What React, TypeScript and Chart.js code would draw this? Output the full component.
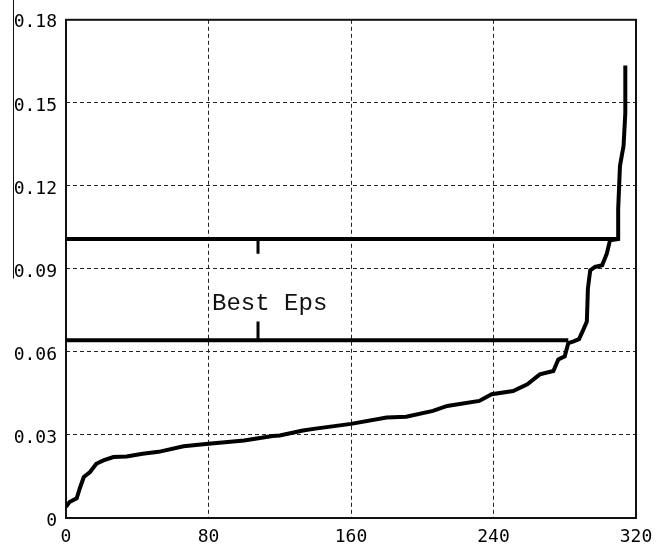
import React, { useEffect, useRef } from 'react';
import { Chart, registerables } from 'chart.js';
Chart.register(...registerables);

const xTicks = [0, 80, 160, 240, 320];
const yTicks = [0, 0.03, 0.06, 0.09, 0.12, 0.15, 0.18];

const curveX = [0, 2, 6, 8, 10, 13.5, 17, 21, 26.6, 34, 43, 52, 66, 80, 100, 116, 120, 133, 139, 160, 180, 191, 206, 214, 232, 239, 251, 259, 266, 273.6, 276.4, 280, 282, 285, 288, 290, 292.4, 293, 294.3, 297, 301, 303.6, 305.4, 310, 310, 310, 311, 312, 313, 314, 314];
const curveY = [0.004, 0.0058, 0.0071, 0.0112, 0.0148, 0.0166, 0.0196, 0.0208, 0.022, 0.0222, 0.0232, 0.0239, 0.0259, 0.0268, 0.028, 0.0296, 0.0298, 0.0316, 0.0322, 0.034, 0.0363, 0.0366, 0.0387, 0.0405, 0.0423, 0.0447, 0.0459, 0.0483, 0.0519, 0.0531, 0.0573, 0.0584, 0.0632, 0.0638, 0.0646, 0.0674, 0.071, 0.0829, 0.0895, 0.0907, 0.0913, 0.0955, 0.1003, 0.1008, 0.1068, 0.1116, 0.1272, 0.1308, 0.1344, 0.1463, 0.1635];

const upperEps = 0.1008;
const upperEnd = 309.5;
const lowerEps = 0.0642;
const lowerEnd = 282;
const markerX = 107.8;
const upperMarkEnd = 0.0955;
const lowerMarkEnd = 0.071;
const annotationText = 'Best Eps';
const annotationX = 82;
const annotationY = 0.0753;

const decorPlugin = {
  id: 'decor',
  beforeDatasetsDraw(chart: any) {
    const { ctx, chartArea } = chart;
    ctx.save();
    ctx.strokeStyle = '#111';
    ctx.lineWidth = 2;
    ctx.setLineDash([]);
    ctx.strokeRect(chartArea.left, chartArea.top, chartArea.right - chartArea.left, chartArea.bottom - chartArea.top);
    // stray thin vertical line at far left
    ctx.lineWidth = 1;
    ctx.beginPath();
    ctx.moveTo(chartArea.left - 52.5, 0);
    ctx.lineTo(chartArea.left - 52.5, chart.scales.y.getPixelForValue(0.0865));
    ctx.stroke();
    ctx.restore();
  },
  afterDatasetsDraw(chart: any) {
    const { ctx, scales } = chart;
    ctx.save();
    ctx.fillStyle = '#111';
    ctx.font = '24px "Liberation Mono", monospace';
    ctx.textAlign = 'left';
    ctx.textBaseline = 'alphabetic';
    ctx.fillText(annotationText, scales.x.getPixelForValue(annotationX), scales.y.getPixelForValue(annotationY));
    ctx.restore();
  },
};

export default function App() {
  const ref = useRef<HTMLCanvasElement>(null);
  useEffect(() => {
    const canvas = ref.current!;
    const lineDs = (data: any[], w: number) => ({
      data,
      borderColor: '#000',
      borderWidth: w,
      pointRadius: 0,
      fill: false,
      tension: 0,
      borderCapStyle: 'butt',
      borderJoinStyle: 'miter',
    });
    const chart = new Chart(canvas, {
      type: 'line',
      data: {
        datasets: [
          lineDs(curveX.map((x, i) => ({ x, y: curveY[i] })), 4),
          lineDs([{ x: 0, y: upperEps }, { x: upperEnd, y: upperEps }], 4),
          lineDs([{ x: 0, y: lowerEps }, { x: lowerEnd, y: lowerEps }], 4),
          lineDs([{ x: markerX, y: upperEps }, { x: markerX, y: upperMarkEnd }], 3),
          lineDs([{ x: markerX, y: lowerEps }, { x: markerX, y: lowerMarkEnd }], 3),
        ] as any,
      },
      options: {
        animation: false,
        responsive: false,
        maintainAspectRatio: false,
        parsing: true,
        layout: { padding: { top: 16, right: 29, left: 0, bottom: 0 } },
        plugins: { legend: { display: false }, tooltip: { enabled: false } },
        scales: {
          x: {
            type: 'linear',
            min: 0,
            max: 320,
            afterBuildTicks: (s: any) => { s.ticks = xTicks.map((v) => ({ value: v })); },
            afterFit: (s: any) => { s.height = 29; },
            grid: { color: '#222', lineWidth: 1, drawTicks: false },
            border: { display: false, dash: [4, 3] },
            ticks: {
              padding: 9,
              color: '#000',
              font: { family: '"DejaVu Sans Mono", monospace', size: 18 },
              callback: (v: any) => String(v),
              maxRotation: 0,
            },
          },
          y: {
            type: 'linear',
            min: 0,
            max: 0.18,
            afterBuildTicks: (s: any) => { s.ticks = yTicks.map((v) => ({ value: v })); },
            afterFit: (s: any) => { s.width = 66; },
            grid: { color: '#222', lineWidth: 1, drawTicks: false },
            border: { display: false, dash: [4, 3] },
            ticks: {
              padding: 9,
              labelOffset: 3,
              color: '#000',
              font: { family: '"DejaVu Sans Mono", monospace', size: 18 },
              callback: (v: any) => (v === 0 ? '0' : Number(v).toFixed(2)),
            },
          },
        },
      } as any,
      plugins: [decorPlugin],
    });
    return () => chart.destroy();
  }, []);
  return (
    <div style={{ position: 'absolute', left: 0, top: 0, width: 665, height: 547, background: '#fff' }}>
      <canvas ref={ref} width={665} height={547} style={{ display: 'block', width: 665, height: 547 }} />
    </div>
  );
}
